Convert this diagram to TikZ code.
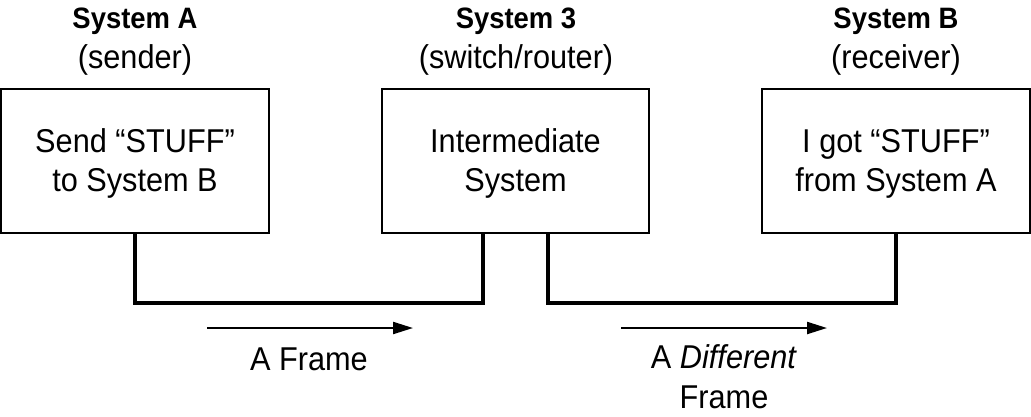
\documentclass[tikz,border=0pt]{standalone}
\usepackage{fontspec}
\setmainfont{Liberation Sans}[FakeStretch=0.93]
\usetikzlibrary{arrows.meta}
\begin{document}
\begin{tikzpicture}[x=1pt,y=-1pt,
  sysbox/.style={draw,line width=2pt,minimum width=268pt,minimum height=144pt,inner sep=0pt},
  title/.style={anchor=base,inner sep=0pt,font=\fontsize{29.5}{35}\selectfont\bfseries},
  txt/.style={anchor=base,inner sep=0pt,font=\fontsize{33}{40}\selectfont},
  wire/.style={line width=4pt},
  flow/.style={line width=2.2pt,-{Triangle[length=20pt,width=12pt]}}]
\useasboundingbox (0,0) rectangle (1031,416);
% headings
\node[title] (tA) at (135,28) {System A};
\node[txt]   (rA) at (135,68) {(sender)};
\node[title] (t3) at (516,28) {System 3};
\node[txt]   (r3) at (516,68) {(switch/router)};
\node[title] (tB) at (896,28) {System B};
\node[txt]   (rB) at (896,68) {(receiver)};
% boxes
\node[sysbox] (a) at (135,161) {};
\node[sysbox,minimum width=267pt] (s3) at (515.5,161) {};
\node[sysbox] (b) at (896,161) {};
% box texts
\node[txt] (a1) at (135,152) {Send “STUFF”};
\node[txt] (a2) at (135,191) {to System B};
\node[txt] (s31) at (515.5,152) {Intermediate};
\node[txt] (s32) at (515.5,191) {System};
\node[txt] (b1) at (896,152) {I got “STUFF”};
\node[txt] (b2) at (896,191) {from System A};
% wires
\coordinate (j1) at (483,302.5);
\coordinate (j2) at (548,302.5);
\draw[wire] (a.south) |- (j1) -- (j1 |- s3.south);
\draw[wire] (j2 |- s3.south) -- (j2) -| (b.south);
% flow arrows
\coordinate (f1s) at (207,328);
\coordinate (f1e) at (413,328);
\coordinate (f2s) at (621,328);
\coordinate (f2e) at (827,328);
\draw[flow] (f1s) -- (f1e);
\draw[flow] (f2s) -- (f2e);
% labels
\node[txt] (l1) at (309,370) {A Frame};
\node[txt] (l2a) at (724,368) {A \textit{Different}};
\node[txt] (l2b) at (724,408) {Frame};
\end{tikzpicture}
\end{document}
